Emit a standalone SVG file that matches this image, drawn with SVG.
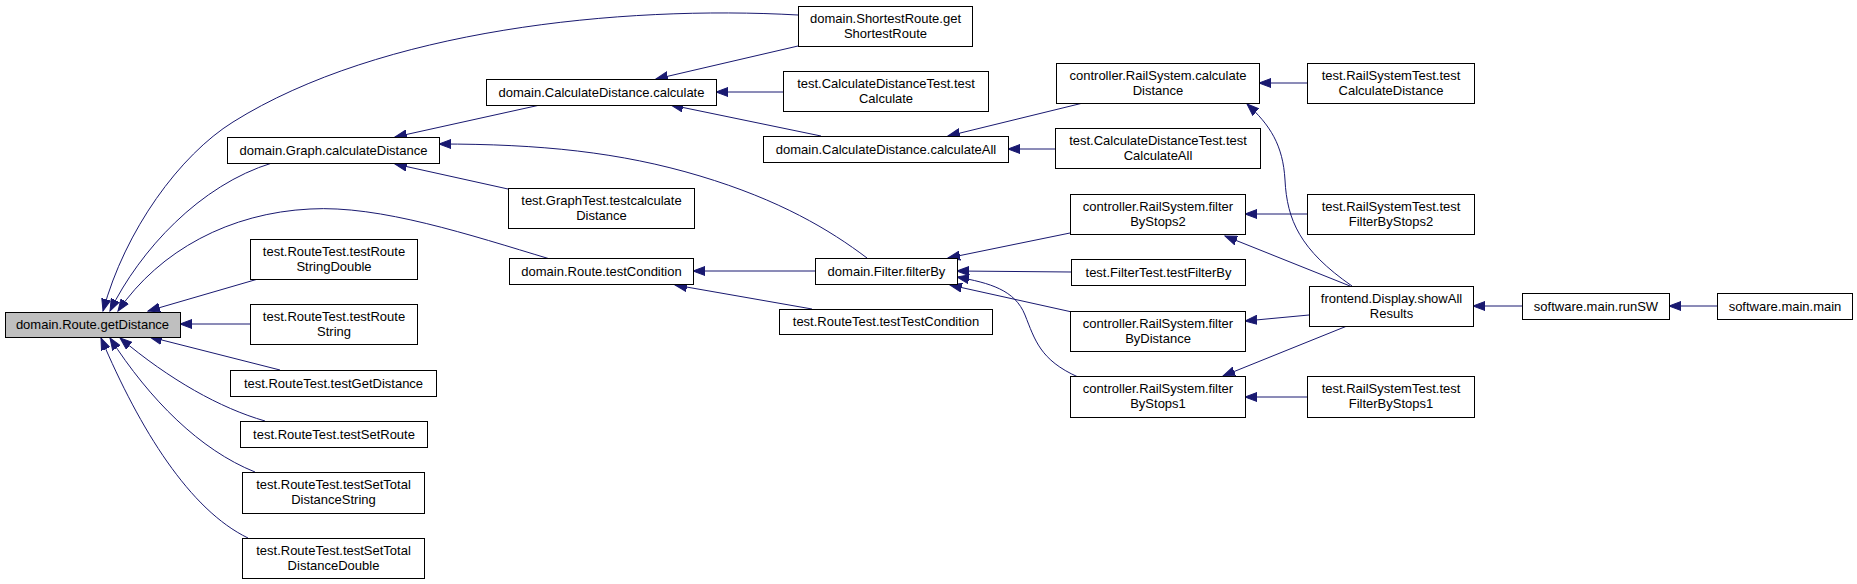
<svg xmlns="http://www.w3.org/2000/svg" width="1857" height="584" viewBox="0 0 1857 584">
<style>
.n rect{fill:#ffffff;stroke:#000000;stroke-width:1}
.n.cur rect{fill:#bfbfbf}
.n text{font-family:"Liberation Sans",Arial,sans-serif;font-size:13px;fill:#000000;text-anchor:middle}
.e path{fill:none;stroke:#191970;stroke-width:1;marker-end:url(#ah)}
</style>
<defs>
<marker id="ah" markerWidth="13" markerHeight="10" refX="12" refY="5" orient="auto" markerUnits="userSpaceOnUse">
<path d="M0,0.5 L12,5 L0,9.5 z" fill="#191970" stroke="#191970" stroke-width="1"/>
</marker>
</defs>
<rect width="1857" height="584" fill="#ffffff"/>
<g id="edges" class="e">
<path d="M798,15 C620,5 380,30 233,122 C180,155 125,230 103,311"/>
<path d="M272,163 C200,185 140,250 110,311"/>
<path d="M550,259 C470,235 380,205 310,209 C230,213 160,250 118,311"/>
<path d="M258,279 L148,311"/>
<path d="M250,324 L180,324"/>
<path d="M280,370 L150,337"/>
<path d="M265,421 C220,408 170,380 120,338"/>
<path d="M255,472 C200,450 150,400 110,338"/>
<path d="M248,538 C190,510 140,430 101,338"/>
<path d="M540,105 L395,137"/>
<path d="M867,258 C830,230 780,200 700,176 C620,152 540,144 439,144"/>
<path d="M508,189 L395,164"/>
<path d="M798,46 L656,79"/>
<path d="M783,92 L716,92"/>
<path d="M821,136 L671,105"/>
<path d="M1083,103 L948,136"/>
<path d="M1055,149 L1008,149"/>
<path d="M1307,83 L1259,83"/>
<path d="M1352,286 C1300,250 1287,220 1285,180 C1283,145 1270,125 1247,104"/>
<path d="M815,271 L693,271"/>
<path d="M812,309 L675,285"/>
<path d="M1070,233 L948,258"/>
<path d="M1071,272 L957,271"/>
<path d="M1072,312 L950,285"/>
<path d="M1078,377 C1040,360 1035,340 1025,315 C1015,290 990,283 957,277"/>
<path d="M1350,286 L1225,236"/>
<path d="M1309,315 L1245,321"/>
<path d="M1347,326 L1223,376"/>
<path d="M1307,214 L1245,214"/>
<path d="M1307,397 L1245,397"/>
<path d="M1522,306 L1473,306"/>
<path d="M1717,306 L1669,306"/>
</g>
<g id="n_getDistance" class="n cur"><rect x="5.5" y="312.5" width="175" height="25"/><text x="92.5" y="329">domain.Route.getDistance</text></g>
<g id="n_graphCalc" class="n"><rect x="227.5" y="137.5" width="212" height="26"/><text x="333.5" y="155">domain.Graph.calculateDistance</text></g>
<g id="n_trsd" class="n"><rect x="250.5" y="239.5" width="167" height="40"/><text x="334" y="255.5">test.RouteTest.testRoute</text><text x="334" y="270.5">StringDouble</text></g>
<g id="n_trs" class="n"><rect x="250.5" y="304.5" width="167" height="40"/><text x="334" y="320.5">test.RouteTest.testRoute</text><text x="334" y="335.5">String</text></g>
<g id="n_tgd" class="n"><rect x="230.5" y="370.5" width="206" height="26"/><text x="333.5" y="388">test.RouteTest.testGetDistance</text></g>
<g id="n_tsr" class="n"><rect x="240.5" y="421.5" width="187" height="26"/><text x="334" y="439">test.RouteTest.testSetRoute</text></g>
<g id="n_tstds" class="n"><rect x="242.5" y="472.5" width="182" height="41"/><text x="333.5" y="489">test.RouteTest.testSetTotal</text><text x="333.5" y="504">DistanceString</text></g>
<g id="n_tstdd" class="n"><rect x="242.5" y="538.5" width="182" height="40"/><text x="333.5" y="554.5">test.RouteTest.testSetTotal</text><text x="333.5" y="569.5">DistanceDouble</text></g>
<g id="n_shortest" class="n"><rect x="798.5" y="6.5" width="174" height="40"/><text x="885.5" y="22.5">domain.ShortestRoute.get</text><text x="885.5" y="37.5">ShortestRoute</text></g>
<g id="n_calc" class="n"><rect x="486.5" y="79.5" width="230" height="26"/><text x="601.5" y="97">domain.CalculateDistance.calculate</text></g>
<g id="n_testCalc" class="n"><rect x="783.5" y="71.5" width="205" height="40"/><text x="886" y="87.5">test.CalculateDistanceTest.test</text><text x="886" y="102.5">Calculate</text></g>
<g id="n_calcAll" class="n"><rect x="763.5" y="136.5" width="245" height="26"/><text x="886" y="154">domain.CalculateDistance.calculateAll</text></g>
<g id="n_graphTest" class="n"><rect x="508.5" y="188.5" width="186" height="40"/><text x="601.5" y="204.5">test.GraphTest.testcalculate</text><text x="601.5" y="219.5">Distance</text></g>
<g id="n_testCond" class="n"><rect x="509.5" y="258.5" width="184" height="26"/><text x="601.5" y="276">domain.Route.testCondition</text></g>
<g id="n_filterBy" class="n"><rect x="815.5" y="258.5" width="142" height="26"/><text x="886.5" y="276">domain.Filter.filterBy</text></g>
<g id="n_ttc" class="n"><rect x="779.5" y="309.5" width="213" height="25"/><text x="886" y="326">test.RouteTest.testTestCondition</text></g>
<g id="n_rsCalc" class="n"><rect x="1056.5" y="63.5" width="203" height="40"/><text x="1158" y="79.5">controller.RailSystem.calculate</text><text x="1158" y="94.5">Distance</text></g>
<g id="n_rstCalc" class="n"><rect x="1307.5" y="63.5" width="167" height="40"/><text x="1391" y="79.5">test.RailSystemTest.test</text><text x="1391" y="94.5">CalculateDistance</text></g>
<g id="n_testCalcAll" class="n"><rect x="1055.5" y="128.5" width="205" height="40"/><text x="1158" y="144.5">test.CalculateDistanceTest.test</text><text x="1158" y="159.5">CalculateAll</text></g>
<g id="n_fbs2" class="n"><rect x="1070.5" y="194.5" width="175" height="40"/><text x="1158" y="210.5">controller.RailSystem.filter</text><text x="1158" y="225.5">ByStops2</text></g>
<g id="n_tfbs2" class="n"><rect x="1307.5" y="194.5" width="167" height="40"/><text x="1391" y="210.5">test.RailSystemTest.test</text><text x="1391" y="225.5">FilterByStops2</text></g>
<g id="n_ftfb" class="n"><rect x="1071.5" y="259.5" width="174" height="26"/><text x="1158.5" y="277">test.FilterTest.testFilterBy</text></g>
<g id="n_show" class="n"><rect x="1309.5" y="286.5" width="164" height="40"/><text x="1391.5" y="302.5">frontend.Display.showAll</text><text x="1391.5" y="317.5">Results</text></g>
<g id="n_fbd" class="n"><rect x="1070.5" y="311.5" width="175" height="40"/><text x="1158" y="327.5">controller.RailSystem.filter</text><text x="1158" y="342.5">ByDistance</text></g>
<g id="n_fbs1" class="n"><rect x="1070.5" y="376.5" width="175" height="41"/><text x="1158" y="393">controller.RailSystem.filter</text><text x="1158" y="408">ByStops1</text></g>
<g id="n_tfbs1" class="n"><rect x="1307.5" y="376.5" width="167" height="41"/><text x="1391" y="393">test.RailSystemTest.test</text><text x="1391" y="408">FilterByStops1</text></g>
<g id="n_runSW" class="n"><rect x="1522.5" y="293.5" width="147" height="26"/><text x="1596" y="311">software.main.runSW</text></g>
<g id="n_main" class="n"><rect x="1717.5" y="293.5" width="135" height="26"/><text x="1785" y="311">software.main.main</text></g>
</svg>
